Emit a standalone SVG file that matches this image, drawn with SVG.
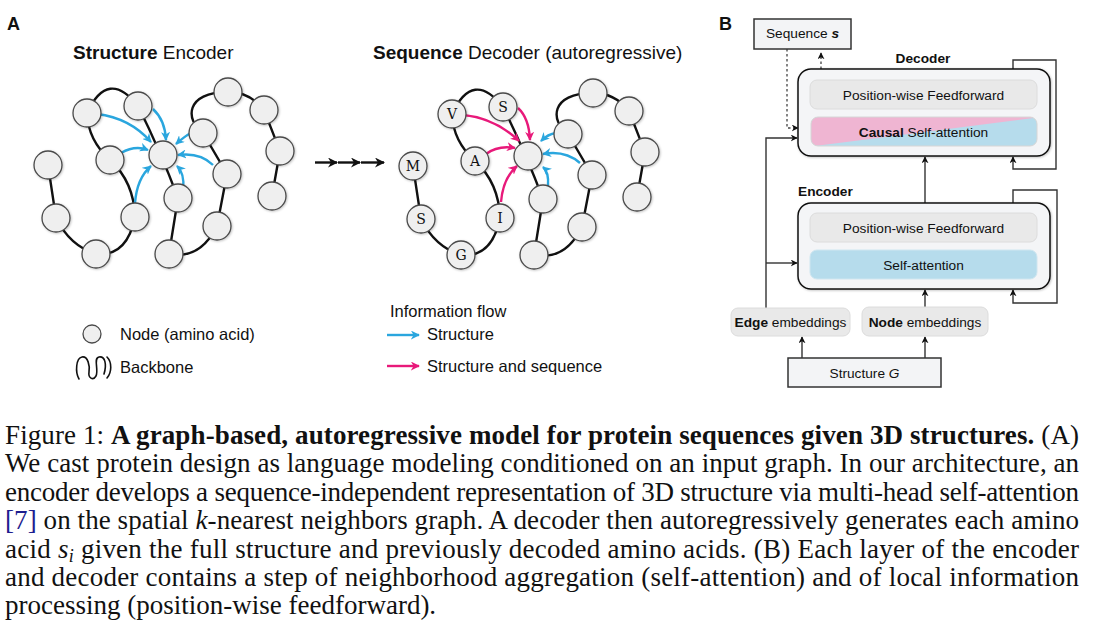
<svg xmlns="http://www.w3.org/2000/svg" width="1107" height="644" viewBox="0 0 1107 644">
<style>
  .sans{font-family:"Liberation Sans",Arial,sans-serif;fill:#111}
  .title{font-size:19px}
  .lbl{font-size:16.5px}
  .bl{font-size:13.7px}
  .b{font-weight:bold}
  .node circle{fill:#efefef;stroke:#4a4a4a;stroke-width:1.3}
  .letter{font-family:"DejaVu Serif","Liberation Serif",serif;font-size:14px;fill:#111;text-anchor:middle}
  .bb{fill:none;stroke:#111;stroke-width:2.4;stroke-linecap:round}
  .blue{fill:none;stroke:#2aa6de;stroke-width:2.4;marker-end:url(#mb)}
  .pink{fill:none;stroke:#e8197a;stroke-width:2.4;marker-end:url(#mp)}
  .blk{fill:none;stroke:#111;stroke-width:2.4;marker-end:url(#mk)}
  .conn{fill:none;stroke:#333;stroke-width:1.4;marker-end:url(#ma)}
  .dash{fill:none;stroke:#444;stroke-width:1.3;stroke-dasharray:2.5,2.5;marker-end:url(#ma)}
  .outer{fill:#f4f5f7;stroke:#111;stroke-width:1.5}
  .inner{fill:#e9e9e9;stroke:#dcdcdc;stroke-width:1}
  .plain{fill:#f3f4f6;stroke:#333;stroke-width:1.5}
  .cap{font-family:"Liberation Serif","Times New Roman",serif;font-size:27px;fill:#111}
</style>
<defs>
  <marker id="mb" viewBox="0 0 10 10" refX="9" refY="5" markerWidth="9" markerHeight="9" markerUnits="userSpaceOnUse" orient="auto"><path d="M0,0 L10,5 L0,10 L3,5 z" fill="#2aa6de"/></marker>
  <marker id="mp" viewBox="0 0 10 10" refX="9" refY="5" markerWidth="9" markerHeight="9" markerUnits="userSpaceOnUse" orient="auto"><path d="M0,0 L10,5 L0,10 L3,5 z" fill="#e8197a"/></marker>
  <marker id="mk" viewBox="0 0 10 10" refX="9" refY="5" markerWidth="10" markerHeight="10" markerUnits="userSpaceOnUse" orient="auto"><path d="M0,0 L10,5 L0,10 L3,5 z" fill="#111"/></marker>
  <marker id="ma" viewBox="0 0 10 10" refX="9" refY="5" markerWidth="7" markerHeight="7" markerUnits="userSpaceOnUse" orient="auto"><path d="M0,0 L10,5 L0,10 L3,5 z" fill="#111"/></marker>
  <clipPath id="causalClip"><rect x="811" y="117" width="226" height="29" rx="7"/></clipPath>
  <filter id="sh" x="-20%" y="-20%" width="150%" height="150%"><feDropShadow dx="0.8" dy="0.8" stdDeviation="0.8" flood-color="#000" flood-opacity="0.25"/></filter>
</defs>

<!-- Panel labels and titles -->
<text class="sans b" x="7" y="30" font-size="18">A</text>
<text class="sans b" x="719" y="30" font-size="18">B</text>
<text class="sans title" x="73" y="59"><tspan class="b">Structure</tspan> Encoder</text>
<text class="sans title" x="373" y="59"><tspan class="b">Sequence</tspan> Decoder (autoregressive)</text>

<!-- Encoder graph -->
<g id="encoder-graph">
  <g id="enc-backbone">
    <path class="bb" d="M48,165 L56,218 Q70,246 96,254 Q127,257 135,217 Q134,182 110,160 Q88,140 87,113 Q108,68 138,106 Q160,150 178,198 L169,254 Q200,260 217,226 L227,174 L203,133 C185,120 185,92 228,92 Q250,92 264,110 L280,151 L272,196"/>
  </g>
  <g id="enc-connectors">
    <path class="blue" d="M97,114 Q130,118 151,142"/>
    <path class="blue" d="M153,109 Q165,120 166,140"/>
    <path class="blue" d="M121,153 Q135,145 148,150"/>
    <path class="blue" d="M135,203 Q137,178 151,166"/>
    <path class="blue" d="M183,189 Q185,174 177,166"/>
    <path class="blue" d="M213,165 Q200,152 178,155"/>
    <path class="blue" d="M191,133 Q185,136 176,144"/>
  </g>
  <g id="enc-e1" class="node"><circle cx="48" cy="165" r="14" filter="url(#sh)"/></g>
  <g id="enc-e2" class="node"><circle cx="56" cy="218" r="14" filter="url(#sh)"/></g>
  <g id="enc-e3" class="node"><circle cx="96" cy="254" r="14" filter="url(#sh)"/></g>
  <g id="enc-e4" class="node"><circle cx="135" cy="217" r="14" filter="url(#sh)"/></g>
  <g id="enc-e5" class="node"><circle cx="110" cy="160" r="14" filter="url(#sh)"/></g>
  <g id="enc-e6" class="node"><circle cx="87" cy="113" r="14" filter="url(#sh)"/></g>
  <g id="enc-e7" class="node"><circle cx="138" cy="106" r="14" filter="url(#sh)"/></g>
  <g id="enc-center" class="node"><circle cx="163" cy="155" r="14" filter="url(#sh)"/></g>
  <g id="enc-e8" class="node"><circle cx="178" cy="198" r="14" filter="url(#sh)"/></g>
  <g id="enc-e9" class="node"><circle cx="169" cy="254" r="14" filter="url(#sh)"/></g>
  <g id="enc-e10" class="node"><circle cx="217" cy="226" r="14" filter="url(#sh)"/></g>
  <g id="enc-e11" class="node"><circle cx="227" cy="174" r="14" filter="url(#sh)"/></g>
  <g id="enc-e12" class="node"><circle cx="203" cy="133" r="14" filter="url(#sh)"/></g>
  <g id="enc-e13" class="node"><circle cx="228" cy="92" r="14" filter="url(#sh)"/></g>
  <g id="enc-e14" class="node"><circle cx="264" cy="110" r="14" filter="url(#sh)"/></g>
  <g id="enc-e15" class="node"><circle cx="280" cy="151" r="14" filter="url(#sh)"/></g>
  <g id="enc-e16" class="node"><circle cx="272" cy="196" r="14" filter="url(#sh)"/></g>
</g>

<!-- Transition arrows -->
<g id="transition-arrows">
  <path class="blk" d="M315,162.5 H337"/>
  <path class="blk" d="M338,162.5 H360"/>
  <path class="blk" d="M361,162.5 H384"/>
</g>

<!-- Decoder graph -->
<g id="decoder-graph">
  <g id="dec-backbone" transform="translate(365,1)">
    <path class="bb" d="M48,165 L56,218 Q70,246 96,254 Q127,257 135,217 Q134,182 110,160 Q88,140 87,113 Q108,68 138,106 Q160,150 178,198 L169,254 Q200,260 217,226 L227,174 L203,133 C185,120 185,92 228,92 Q250,92 264,110 L280,151 L272,196"/>
  </g>
  <g id="dec-connectors">
    <path class="pink" d="M463,115 Q495,118 519,141"/>
    <path class="pink" d="M518,108 Q529,118 530,140"/>
    <path class="pink" d="M486,154 Q498,145 515,148"/>
    <path class="pink" d="M501,202 Q503,178 517,166"/>
    <path class="blue" d="M556,133 Q548,134 541,141"/>
    <path class="blue" d="M580,163 Q565,150 543,154"/>
    <path class="blue" d="M548,186 Q549,172 543,167"/>
  </g>
  <g transform="translate(365,1)">
    <g id="dec-M" class="node"><circle cx="48" cy="165" r="14" filter="url(#sh)"/><text class="letter" x="48" y="170">M</text></g>
    <g id="dec-S1" class="node"><circle cx="56" cy="218" r="14" filter="url(#sh)"/><text class="letter" x="56" y="223">S</text></g>
    <g id="dec-G" class="node"><circle cx="96" cy="254" r="14" filter="url(#sh)"/><text class="letter" x="96" y="259">G</text></g>
    <g id="dec-I" class="node"><circle cx="135" cy="217" r="14" filter="url(#sh)"/><text class="letter" x="135" y="222">I</text></g>
    <g id="dec-A" class="node"><circle cx="110" cy="160" r="14" filter="url(#sh)"/><text class="letter" x="110" y="165">A</text></g>
    <g id="dec-V" class="node"><circle cx="87" cy="113" r="14" filter="url(#sh)"/><text class="letter" x="87" y="118">V</text></g>
    <g id="dec-S2" class="node"><circle cx="138" cy="106" r="14" filter="url(#sh)"/><text class="letter" x="138" y="111">S</text></g>
    <g id="dec-center" class="node"><circle cx="163" cy="155" r="14" filter="url(#sh)"/></g>
    <g id="dec-e8" class="node"><circle cx="178" cy="198" r="14" filter="url(#sh)"/></g>
    <g id="dec-e9" class="node"><circle cx="169" cy="254" r="14" filter="url(#sh)"/></g>
    <g id="dec-e10" class="node"><circle cx="217" cy="226" r="14" filter="url(#sh)"/></g>
    <g id="dec-e11" class="node"><circle cx="227" cy="174" r="14" filter="url(#sh)"/></g>
    <g id="dec-e12" class="node"><circle cx="203" cy="133" r="14" filter="url(#sh)"/></g>
    <g id="dec-e13" class="node"><circle cx="228" cy="92" r="14" filter="url(#sh)"/></g>
    <g id="dec-e14" class="node"><circle cx="264" cy="110" r="14" filter="url(#sh)"/></g>
    <g id="dec-e15" class="node"><circle cx="280" cy="151" r="14" filter="url(#sh)"/></g>
    <g id="dec-e16" class="node"><circle cx="272" cy="196" r="14" filter="url(#sh)"/></g>
  </g>
</g>

<!-- Legend -->
<g id="legend">
  <g id="legend-node" class="node"><circle cx="92" cy="334" r="9"/></g>
  <text class="sans lbl" x="120" y="340">Node (amino acid)</text>
  <path id="legend-backbone" d="M79,379 C75,372 76,358 82,357 C88,356 90,366 89,372 C88,378 93,381 96,376 C99,370 93,358 99,357 C105,356 107,364 104,374 M107,357 C112,362 112,372 107,378" fill="none" stroke="#111" stroke-width="1.6" stroke-linecap="round"/>
  <text class="sans lbl" x="120" y="373">Backbone</text>
  <text class="sans lbl" x="390" y="317">Information flow</text>
  <path class="blue" d="M387,335 H419"/>
  <text class="sans lbl" x="427" y="340">Structure</text>
  <path class="pink" d="M387,366 H419"/>
  <text class="sans lbl" x="427" y="372">Structure and sequence</text>
</g>

<!-- Panel B connectors -->
<g id="b-connectors">
  <path class="dash" d="M787,49 V128 H798"/>
  <path class="dash" d="M821,69 V53"/>
  <path class="conn" d="M1013,69 V60 H1056 V169 H1013 V157"/>
  <path class="conn" d="M925,203 V157"/>
  <path class="conn" d="M766,308 V138 H797"/>
  <path class="conn" d="M766,263 H797"/>
  <path class="conn" d="M1013,203 V190 H1057 V303 H1013 V290"/>
  <path class="conn" d="M925,307 V290"/>
  <path class="conn" d="M802,358 V337"/>
  <path class="conn" d="M925,358 V337"/>
</g>

<!-- Panel B nodes -->
<g id="sequence-s">
  <rect class="plain" x="754" y="19" width="97" height="30"/>
  <text class="sans bl" x="802.5" y="38" text-anchor="middle">Sequence <tspan font-weight="bold" font-style="italic">s</tspan></text>
</g>
<text class="sans bl b" x="923" y="63" text-anchor="middle">Decoder</text>
<g id="decoder-block">
  <rect class="outer" x="798" y="69" width="252" height="87" rx="13" filter="url(#sh)"/>
  <g id="dec-ff">
    <rect class="inner" x="810" y="80" width="227" height="29" rx="7"/>
    <text class="sans bl" x="923.5" y="100" text-anchor="middle">Position-wise Feedforward</text>
  </g>
  <g id="dec-causal">
    <g clip-path="url(#causalClip)">
      <rect x="811" y="117" width="226" height="29" fill="#b6dcec"/>
      <polygon points="811,117 1037,117 1037,117.5 815,146 811,146" fill="#efb5d2"/>
    </g>
    <rect x="811" y="117" width="226" height="29" rx="7" fill="none" stroke="#d6d6d6" stroke-width="1"/>
    <text class="sans bl" x="923.5" y="137" text-anchor="middle"><tspan class="b">Causal</tspan> Self-attention</text>
  </g>
</g>
<text class="sans bl b" x="798" y="196">Encoder</text>
<g id="encoder-block">
  <rect class="outer" x="798" y="203" width="252" height="86" rx="13" filter="url(#sh)"/>
  <g id="enc-ff">
    <rect class="inner" x="810" y="213" width="227" height="29" rx="7"/>
    <text class="sans bl" x="923.5" y="233" text-anchor="middle">Position-wise Feedforward</text>
  </g>
  <g id="enc-sa">
    <rect x="810" y="250" width="227" height="29" rx="7" fill="#b6dcec" stroke="#cfe6f0" stroke-width="1"/>
    <text class="sans bl" x="923.5" y="270" text-anchor="middle">Self-attention</text>
  </g>
</g>
<g id="edge-emb">
  <rect class="inner" x="731" y="308" width="119" height="28" rx="7"/>
  <text class="sans bl" x="790.5" y="327" text-anchor="middle"><tspan class="b">Edge</tspan> embeddings</text>
</g>
<g id="node-emb">
  <rect class="inner" x="862" y="307" width="126" height="29" rx="7"/>
  <text class="sans bl" x="925" y="327" text-anchor="middle"><tspan class="b">Node</tspan> embeddings</text>
</g>
<g id="structure-g">
  <rect class="plain" x="788" y="358" width="153" height="29"/>
  <text class="sans bl" x="864.5" y="378" text-anchor="middle">Structure <tspan font-style="italic">G</tspan></text>
</g>

<!-- Caption -->
<g id="caption">
  <text class="cap" x="5" y="443.5" textLength="1074" lengthAdjust="spacing">Figure 1: <tspan font-weight="bold">A graph-based, autoregressive model for protein sequences given 3D structures.</tspan> (A)</text>
  <text class="cap" x="5" y="472" textLength="1074" lengthAdjust="spacing">We cast protein design as language modeling conditioned on an input graph. In our architecture, an</text>
  <text class="cap" x="5" y="500.5" textLength="1074" lengthAdjust="spacing">encoder develops a sequence-independent representation of 3D structure via multi-head self-attention</text>
  <text class="cap" x="5" y="529" textLength="1074" lengthAdjust="spacing"><tspan fill="#1d1d8f">[7]</tspan> on the spatial <tspan font-style="italic">k</tspan>-nearest neighbors graph. A decoder then autoregressively generates each amino</text>
  <text class="cap" x="5" y="557.5" textLength="1074" lengthAdjust="spacing">acid <tspan font-style="italic">s</tspan><tspan font-style="italic" font-size="18" dy="4">i</tspan><tspan dy="-4"> given the full structure and previously decoded amino acids. (B) Each layer of the encoder</tspan></text>
  <text class="cap" x="5" y="586" textLength="1074" lengthAdjust="spacing">and decoder contains a step of neighborhood aggregation (self-attention) and of local information</text>
  <text class="cap" x="5" y="614">processing (position-wise feedforward).</text>
</g>
</svg>
